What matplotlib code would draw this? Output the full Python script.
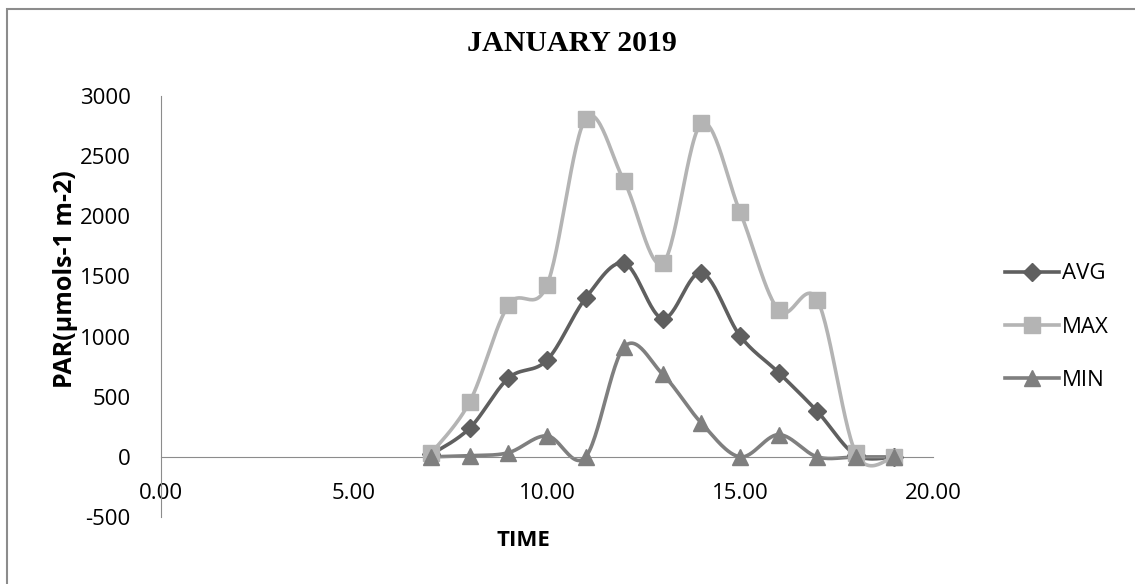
import numpy as np
import matplotlib.pyplot as plt
from matplotlib.patches import Rectangle

# data
time = [7, 8, 9, 10, 11, 12, 13, 14, 15, 16, 17, 18, 19]
avg = [20, 240, 655, 805, 1320, 1610, 1150, 1530, 1005, 700, 378, 15, 0]
mx = [30, 460, 1263, 1430, 2812, 2290, 1610, 2772, 2035, 1218, 1305, 30, 0]
mn = [0, 10, 35, 175, 0, 915, 685, 280, 0, 185, 0, 0, 0]
series_names = ['AVG', 'MAX', 'MIN']
xticks = [0, 5, 10, 15, 20]
yticks = [-500, 0, 500, 1000, 1500, 2000, 2500, 3000]


def smooth(x, y, n=30):
    # excel-like smoothed line: cubic bezier with catmull-rom control points
    x = np.asarray(x, float)
    y = np.asarray(y, float)
    xs, ys = [], []
    t = np.linspace(0, 1, n)
    for i in range(len(x) - 1):
        x0, y0 = (x[i - 1], y[i - 1]) if i > 0 else (x[i], y[i])
        x3, y3 = (x[i + 2], y[i + 2]) if i + 2 < len(x) else (x[i + 1], y[i + 1])
        p0 = np.array([x[i], y[i]])
        p3 = np.array([x[i + 1], y[i + 1]])
        p1 = p0 + (p3 - np.array([x0, y0])) / 6.0
        p2 = p3 - (np.array([x3, y3]) - p0) / 6.0
        b = ((1 - t) ** 3)[:, None] * p0 + (3 * (1 - t) ** 2 * t)[:, None] * p1 \
            + (3 * (1 - t) * t ** 2)[:, None] * p2 + (t ** 3)[:, None] * p3
        xs.extend(b[:, 0])
        ys.extend(b[:, 1])
    return xs, ys


plt.rcParams['font.family'] = ['Open Sans', 'DejaVu Sans']
plt.rcParams['axes.unicode_minus'] = False

fig = plt.figure(figsize=(11.35, 5.84), dpi=100)
ax = fig.add_axes([0.1419, 0.1147, 0.6802, 0.7209])

styles = [
    (avg, '#5f5f5f', 'D', 9),
    (mx, '#b4b4b4', 's', 11),
    (mn, '#7f7f7f', '^', 11),
]
handles = []
for (vals, col, mk, ms), name in zip(styles, series_names):
    sx, sy = smooth(time, vals)
    ax.plot(sx, sy, color=col, lw=2.6, zorder=2)
    ax.plot(time, vals, ls='none', marker=mk, ms=ms, color=col, zorder=3)
    h, = ax.plot([], [], color=col, lw=2.6, marker=mk, ms=ms, label=name)
    handles.append(h)

ax.set_xlim(0, 20)
ax.set_ylim(-500, 3000)
ax.set_xticks(xticks)
ax.set_xticklabels(['%.2f' % v for v in xticks])
ax.set_yticks(yticks)
ax.tick_params(length=0, labelsize=16, colors='black')
ax.tick_params(axis='y', pad=22)
ax.tick_params(axis='x', pad=19)

for s in ['top', 'right']:
    ax.spines[s].set_visible(False)
ax.spines['bottom'].set_position(('data', 0))
ax.spines['bottom'].set_color('#8c8c8c')
ax.spines['left'].set_color('#8c8c8c')

fig.text(0.504, 0.925, 'JANUARY 2019', family='Liberation Serif',
         fontweight='bold', fontsize=21.5, ha='center', va='center')
fig.text(0.461, 0.074, 'TIME', fontweight='bold', fontsize=16,
         ha='center', va='center')
fig.text(0.058, 0.522, 'PAR(µmols-1 m-2)', fontweight='bold', fontsize=18,
         rotation=90, ha='center', va='center')

fig.legend(handles=handles, loc='center left', bbox_to_anchor=(0.868, 0.44),
           frameon=False, fontsize=16, handlelength=2.4, handletextpad=0.15,
           labelspacing=1.45)

# chart area border (right and bottom edges fall outside the image)
fig.patches.append(Rectangle((0.0062, -0.05), 1.1, 1.0346, transform=fig.transFigure,
                             fill=False, edgecolor='#8c8c8c', lw=1.5))

fig.savefig('out.png', dpi=100)
